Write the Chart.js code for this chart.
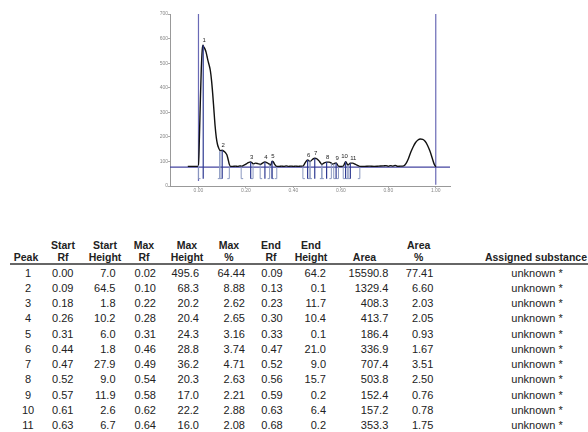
<!DOCTYPE html>
<html>
<head>
<meta charset="utf-8">
<script src="https://cdn.jsdelivr.net/npm/chart.js@4.4.1/dist/chart.umd.min.js"></script>
<style>
  body { margin: 0; background: #fff; width: 588px; height: 432px; overflow: hidden; position: relative; }
  #chartBox { position: absolute; left: 0; top: 0; }
  .cell { position: absolute; white-space: nowrap; font-family: "Liberation Sans", Arial, sans-serif; color: #222; }
  .body { font-size: 11px; line-height: 11px; }
  .head { font-size: 10.5px; line-height: 10.5px; font-weight: bold; }
  #rule { position: absolute; left: 10px; top: 263px; width: 578px; height: 2px; background: #666; }
</style>
</head>
<body>
<div id="chartBox"><canvas id="densito" width="588" height="200"></canvas></div>
<div id="rule"></div>
<div id="table"></div>
<script>
// densitogram trace (Rf, signal)
let curveRf = [-0.045, -0.03, -0.015, 0.000, 0.004, 0.008, 0.012, 0.016, 0.019, 0.022, 0.025, 0.028, 0.032, 0.036, 0.040,
  0.045, 0.050, 0.055, 0.060, 0.065, 0.070, 0.075, 0.080, 0.085, 0.090, 0.095, 0.100, 0.105, 0.110, 0.115, 0.120,
  0.125, 0.130, 0.135, 0.145, 0.155, 0.165, 0.175, 0.180, 0.190, 0.200, 0.210, 0.220, 0.225, 0.230, 0.240, 0.250,
  0.260, 0.270, 0.280, 0.290, 0.300, 0.305, 0.310, 0.315, 0.320, 0.330, 0.340, 0.350, 0.360, 0.370, 0.380, 0.390,
  0.400, 0.410, 0.420, 0.430, 0.440, 0.450, 0.460, 0.465, 0.470, 0.480, 0.490, 0.500, 0.510, 0.520, 0.530, 0.540,
  0.550, 0.560, 0.565, 0.570, 0.580, 0.590, 0.600, 0.610, 0.620, 0.625, 0.630, 0.640, 0.650, 0.660, 0.670, 0.680,
  0.700, 0.720, 0.740, 0.760, 0.780, 0.790, 0.800, 0.810, 0.820, 0.830, 0.840, 0.850, 0.865, 0.875, 0.885, 0.895,
  0.905, 0.915, 0.925, 0.935, 0.945, 0.955, 0.965, 0.975, 0.985, 0.993, 1.000];
let curveSignal = [80, 80, 80, 81, 200, 350, 480, 555, 573, 566, 562, 556, 545, 528, 510,
  492, 470, 430, 375, 310, 245, 198, 170, 155, 145, 144, 146, 143, 139, 134, 126,
  108, 88, 80, 80, 81, 80, 82, 81, 84, 89, 95, 98, 95, 90, 93, 91,
  88, 93, 98, 94, 88, 85, 101, 99, 90, 80, 80, 81, 80, 82, 80, 81,
  80, 81, 80, 81, 81, 95, 106, 103, 100, 108, 113, 110, 100, 88, 94, 97,
  97, 93, 89, 90, 94, 81, 80, 81, 99, 92, 85, 93, 93, 89, 84, 80,
  80, 81, 80, 81, 82, 83, 80, 83, 81, 84, 80, 81, 82, 92, 112, 138,
  160, 177, 187, 191, 190, 182, 166, 143, 114, 90, 78];

let baseLevel = 77;
let xTicks = [0.00, 0.20, 0.40, 0.60, 0.80, 1.00];
let yTicks = [0, 100, 200, 300, 400, 500, 600, 700];

// peak table
let peakNo = [1, 2, 3, 4, 5, 6, 7, 8, 9, 10, 11];
let startRf = [0.00, 0.09, 0.18, 0.26, 0.31, 0.44, 0.47, 0.52, 0.57, 0.61, 0.63];
let startHeight = [7.0, 64.5, 1.8, 10.2, 6.0, 1.8, 27.9, 9.0, 11.9, 2.6, 6.7];
let maxRf = [0.02, 0.10, 0.22, 0.28, 0.31, 0.46, 0.49, 0.54, 0.58, 0.62, 0.64];
let maxHeight = [495.6, 68.3, 20.2, 20.4, 24.3, 28.8, 36.2, 20.3, 17.0, 22.2, 16.0];
let maxPct = [64.44, 8.88, 2.62, 2.65, 3.16, 3.74, 4.71, 2.63, 2.21, 2.88, 2.08];
let endRf = [0.09, 0.13, 0.23, 0.30, 0.33, 0.47, 0.52, 0.56, 0.59, 0.63, 0.68];
let endHeight = [64.2, 0.1, 11.7, 10.4, 0.1, 21.0, 9.0, 15.7, 0.2, 6.4, 0.2];
let area = [15590.8, 1329.4, 408.3, 413.7, 186.4, 336.9, 707.4, 503.8, 152.4, 157.2, 353.3];
let areaPct = [77.41, 6.60, 2.03, 2.05, 0.93, 1.67, 3.51, 2.50, 0.76, 0.78, 1.75];
let substance = ['unknown *', 'unknown *', 'unknown *', 'unknown *', 'unknown *', 'unknown *',
  'unknown *', 'unknown *', 'unknown *', 'unknown *', 'unknown *'];

let markBottom = 30;

function line(ctx, x1, y1, x2, y2, color, w) {
    ctx.strokeStyle = color;
    ctx.lineWidth = w;
    ctx.beginPath();
    ctx.moveTo(x1, y1);
    ctx.lineTo(x2, y2);
    ctx.stroke();
}

// integration brackets, peak max lines and peak numbers
let peakMarks = {
    id: 'peakMarks',
    afterDatasetsDraw(chart) {
        let ctx = chart.ctx;
        let x = chart.scales.x, y = chart.scales.y;
        let yb = y.getPixelForValue(markBottom);
        ctx.save();
        for (let i = 0; i < peakNo.length; i++) {
            let xs = x.getPixelForValue(startRf[i]);
            let xe = x.getPixelForValue(endRf[i]);
            let xm = x.getPixelForValue(maxRf[i]);
            line(ctx, xs, y.getPixelForValue(baseLevel + startHeight[i]), xs, yb, '#8a98c0', 1);
            line(ctx, xs, yb, xs + 2, yb, '#8a98c0', 1);
            line(ctx, xe, y.getPixelForValue(baseLevel + endHeight[i]), xe, yb, '#8a98c0', 1);
            line(ctx, xe, yb, xe - 2, yb, '#8a98c0', 1);
            let ym = y.getPixelForValue(baseLevel + maxHeight[i]);
            line(ctx, xm, ym, xm, yb, '#2e3a92', 1.2);
            ctx.fillStyle = '#222';
            ctx.font = '6px "Liberation Sans", Arial';
            ctx.textAlign = 'center';
            ctx.textBaseline = 'bottom';
            let lx = xm + (i == 9 ? -1 : (i == 10 ? 3 : 1));
            ctx.fillText(String(peakNo[i]), lx, ym - 2);
        }
        ctx.restore();
    }
};

let curvePoints = curveRf.map((r, i) => ({x: r, y: curveSignal[i]}));

let chart = new Chart(document.getElementById('densito'), {
    type: 'line',
    data: {
        datasets: [
            {data: curvePoints, borderColor: '#111', borderWidth: 1.4, pointRadius: 0, cubicInterpolationMode: 'monotone'},
            {data: [{x: -0.12, y: baseLevel}, {x: 1.06, y: baseLevel}], borderColor: '#4444a0', borderWidth: 1.2, pointRadius: 0},
            {data: [{x: xTicks[0], y: 700}, {x: xTicks[0], y: 20}], borderColor: '#6a6ab6', borderWidth: 1.2, pointRadius: 0},
            {data: [{x: xTicks[5], y: 700}, {x: xTicks[5], y: 5}], borderColor: '#6a6ab6', borderWidth: 1.2, pointRadius: 0}
        ]
    },
    options: {
        responsive: false,
        animation: false,
        layout: {padding: {left: 130, right: 138, top: 14, bottom: 0}},
        plugins: {legend: {display: false}, tooltip: {enabled: false}},
        scales: {
            x: {
                type: 'linear', min: -0.12, max: 1.06,
                afterBuildTicks: s => { s.ticks = xTicks.map(v => ({value: v})); },
                afterFit: s => { s.height = 14; },
                border: {color: '#999'},
                grid: {drawOnChartArea: false, tickLength: 2, color: '#aaa'},
                ticks: {font: {size: 5, family: 'Liberation Sans'}, color: '#888', padding: 0,
                    callback: v => Number(v).toFixed(2)}
            },
            y: {
                min: 0, max: 700,
                afterBuildTicks: s => { s.ticks = yTicks.map(v => ({value: v})); },
                afterFit: s => { s.width = 40; },
                border: {color: '#999'},
                grid: {drawOnChartArea: false, tickLength: 2, color: '#aaa'},
                ticks: {font: {size: 5, family: 'Liberation Sans'}, color: '#888', padding: 0}
            }
        }
    },
    plugins: [peakMarks]
});

// table below the scan
let table = document.getElementById('table');

function addText(text, x, baseline, align, cls) {
    let d = document.createElement('div');
    d.className = 'cell ' + cls;
    d.textContent = text;
    let off = cls == 'head' ? 8.9 : 9.3;
    d.style.top = (baseline - off) + 'px';
    if (align == 'right') {
        d.style.left = (x - 150) + 'px';
        d.style.width = '150px';
        d.style.textAlign = 'right';
    } else {
        d.style.left = (x - 100) + 'px';
        d.style.width = '200px';
        d.style.textAlign = 'center';
    }
    table.appendChild(d);
}

let columns = [
    {h1: '', h2: 'Peak', hx: 26, vx: 28, align: 'center', vals: peakNo, dec: -1},
    {h1: 'Start', h2: 'Rf', hx: 63, vx: 73.5, align: 'right', vals: startRf, dec: 2},
    {h1: 'Start', h2: 'Height', hx: 105, vx: 115.5, align: 'right', vals: startHeight, dec: 1},
    {h1: 'Max', h2: 'Rf', hx: 144, vx: 156, align: 'right', vals: maxRf, dec: 2},
    {h1: 'Max', h2: 'Height', hx: 187, vx: 199, align: 'right', vals: maxHeight, dec: 1},
    {h1: 'Max', h2: '%', hx: 229, vx: 245, align: 'right', vals: maxPct, dec: 2},
    {h1: 'End', h2: 'Rf', hx: 271, vx: 282.7, align: 'right', vals: endRf, dec: 2},
    {h1: 'End', h2: 'Height', hx: 311, vx: 326, align: 'right', vals: endHeight, dec: 1},
    {h1: '', h2: 'Area', hx: 364.5, vx: 388.3, align: 'right', vals: area, dec: 1},
    {h1: 'Area', h2: '%', hx: 418.7, vx: 433.3, align: 'right', vals: areaPct, dec: 2},
    {h1: '', h2: 'Assigned substance', hx: 536, vx: 537, align: 'center', vals: substance, dec: -1}
];

columns.forEach(c => {
    if (c.h1) addText(c.h1, c.hx, 249.2, 'center', 'head');
    addText(c.h2, c.hx, 260.8, 'center', 'head');
    c.vals.forEach((v, i) => {
        let t = c.dec < 0 ? String(v) : v.toFixed(c.dec);
        addText(t, c.vx, 276.9 + i * 15.24, c.align, 'body');
    });
});
</script>
</body>
</html>
